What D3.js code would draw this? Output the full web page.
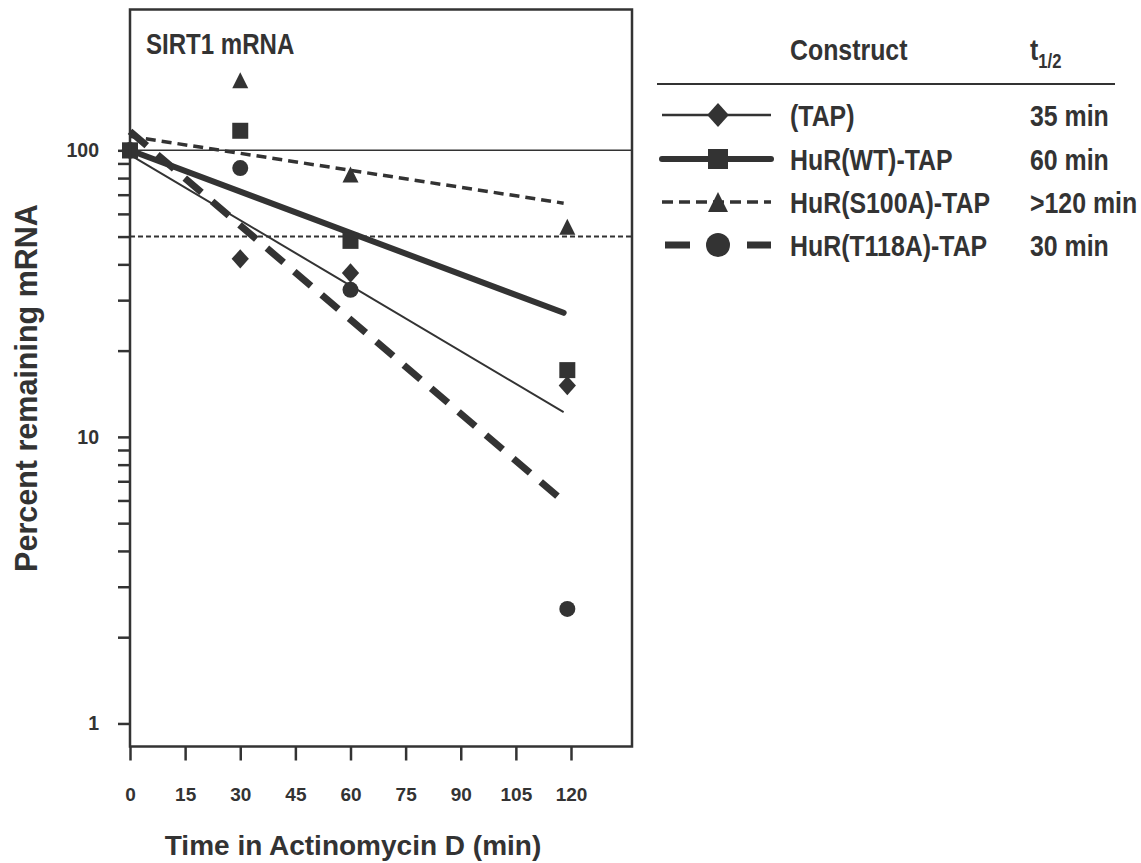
<!DOCTYPE html>
<html><head><meta charset="utf-8">
<script src="https://cdn.jsdelivr.net/npm/d3@7"></script>
<style>
body{margin:0;background:#fff}
text{font-family:"Liberation Sans",Arial,Helvetica,sans-serif;font-weight:bold;fill:#333}
</style>
</head><body><svg id="c" width="1141" height="863"></svg>
<script>
// ---- data ----
const times = [0, 30, 60, 119];
const constructs = ["(TAP)", "HuR(WT)-TAP", "HuR(S100A)-TAP", "HuR(T118A)-TAP"];
const halfLives = ["35 min", "60 min", ">120 min", "30 min"];
const tapValues = [100, 41.8, 37.3, 15.1];
const wtValues = [100, 117, 48.3, 17.1];
const s100aValues = [100, 175.5, 82.4, 54.1];
const t118aValues = [100, 86.7, 32.6, 2.51];
const fitTimes = [0, 118];
const tapFit = [96.4, 12.2];
const wtFit = [100, 27.1];
const s100aFit = [111.9, 65.4];
const t118aFit = [116.5, 5.95];
const xTicks = [0, 15, 30, 45, 60, 75, 90, 105, 120];
const yLabelled = [1, 10, 100];
const yMinor = [2,3,4,5,6,7,8,9,20,30,40,50,60,70,80,90];
const refLines = [100, 50];

const ink = "#333";
const svg = d3.select("#c");
const x = d3.scaleLinear().domain([0, 136.6]).range([130, 632]);
const y = d3.scaleLog().domain([0.831, 310]).range([746.5, 9.5]);

const series = [
  {name: constructs[0], hl: halfLives[0], vals: tapValues, fit: tapFit, shape: "diamond", w: 2, dash: null, cap: "butt", lw: 2.5, ldash: null},
  {name: constructs[1], hl: halfLives[1], vals: wtValues, fit: wtFit, shape: "square", w: 6, dash: null, cap: "round", lw: 6, ldash: null},
  {name: constructs[2], hl: halfLives[2], vals: s100aValues, fit: s100aFit, shape: "triangle", w: 3.5, dash: "10,6", cap: "butt", lw: 3.5, ldash: "11,6"},
  {name: constructs[3], hl: halfLives[3], vals: t118aValues, fit: t118aFit, shape: "circle", w: 7, dash: "22,14", cap: "butt", lw: 7, ldash: "25,57"}
];

function shapePath(shape, s) {
  const h = s / 2;
  if (shape === "diamond") { const r = h * 1.08, v = r * 1.12; return `M0,${-v}L${r},0L0,${v}L${-r},0Z`; }
  if (shape === "square") return `M${-h},${-h}H${h}V${h}H${-h}Z`;
  if (shape === "triangle") return `M0,${-h}L${h},${h}L${-h},${h}Z`;
  return `M${h},0A${h},${h},0,1,1,${-h},0A${h},${h},0,1,1,${h},0Z`;
}

// reference lines
svg.selectAll("line.ref").data(refLines).join("line")
  .attr("x1", x(0)).attr("x2", x(136.6))
  .attr("y1", d => y(d)).attr("y2", d => y(d))
  .attr("stroke", ink)
  .attr("stroke-width", (d, i) => i === 0 ? 1.5 : 2)
  .attr("stroke-dasharray", (d, i) => i === 0 ? null : "5,3");

// fit lines
const line = d3.line().x(d => x(d[0])).y(d => y(d[1]));
svg.selectAll("path.fit").data(series).join("path")
  .attr("d", s => line(fitTimes.map((t, i) => [t, s.fit[i]])))
  .attr("fill", "none").attr("stroke", ink)
  .attr("stroke-width", s => s.w).attr("stroke-dasharray", s => s.dash)
  .attr("stroke-linecap", s => s.cap);

// markers (WT squares drawn last so they sit on top at t=0)
const order = [0, 2, 3, 1];
order.forEach(k => {
  const s = series[k];
  svg.selectAll(null).data(s.vals).join("path")
    .attr("transform", (v, i) => `translate(${x(times[i])},${y(v)})`)
    .attr("d", shapePath(s.shape, 16))
    .attr("fill", ink);
});

// axes
const yAxis = d3.axisLeft(y).tickValues(yLabelled.concat(yMinor))
  .tickFormat(d => yLabelled.includes(d) ? d : "").tickSize(12).tickPadding(19);
const gy = svg.append("g").attr("transform", `translate(${x(0)},0)`).call(yAxis);
gy.select(".domain").remove();
gy.selectAll(".tick line").attr("stroke", ink).attr("stroke-width", 2.5);
gy.selectAll(".tick text").attr("font-size", 19.5).attr("font-family", null).style("fill", ink);

const xAxis = d3.axisBottom(x).tickValues(xTicks).tickSize(14).tickPadding(27);
const gx = svg.append("g").attr("transform", `translate(0,${y(0.831)})`).call(xAxis);
gx.select(".domain").remove();
gx.selectAll(".tick line").attr("stroke", ink).attr("stroke-width", 2.5);
gx.selectAll(".tick text").attr("font-size", 19).attr("font-family", null).style("fill", ink);

// frame
svg.append("rect").attr("x", x(0)).attr("y", y(310))
  .attr("width", x(136.6) - x(0)).attr("height", y(0.831) - y(310))
  .attr("fill", "none").attr("stroke", ink).attr("stroke-width", 2.5);

// titles
const narrow = 0.83;
svg.append("text").attr("transform", `translate(146,54) scale(${narrow},1)`)
  .attr("font-size", 29).text("SIRT1 mRNA");
svg.append("text").attr("x", 353).attr("y", 855).attr("text-anchor", "middle")
  .attr("font-size", 28).text("Time in Actinomycin D (min)");
svg.append("text").attr("transform", "translate(37,388) rotate(-90)")
  .attr("text-anchor", "middle").attr("font-size", 30.5).text("Percent remaining mRNA");

// legend
svg.append("text").attr("transform", `translate(790,60) scale(${narrow},1)`)
  .attr("font-size", 30).text("Construct");
const th = svg.append("text").attr("transform", `translate(1030,60) scale(${narrow},1)`).attr("font-size", 30);
th.append("tspan").text("t");
th.append("tspan").attr("dy", 8).attr("font-size", 20).text("1/2");
svg.append("line").attr("x1", 657).attr("x2", 1115).attr("y1", 84).attr("y2", 84)
  .attr("stroke", ink).attr("stroke-width", 2);

const rowY = [115, 159, 202, 245];
const lg = svg.selectAll("g.lg").data(series).join("g")
  .attr("transform", (s, i) => `translate(0,${rowY[i]})`);
lg.append("line").attr("x1", s => s.shape === "circle" ? 665 : 662).attr("x2", 771)
  .attr("stroke", ink).attr("stroke-width", s => s.lw)
  .attr("stroke-dasharray", s => s.ldash).attr("stroke-linecap", s => s.cap);
lg.append("path").attr("transform", "translate(718,0)")
  .attr("d", s => shapePath(s.shape, s.shape === "circle" ? 24 : 20)).attr("fill", ink);
lg.append("text").attr("transform", `translate(790,0) scale(${narrow},1)`)
  .attr("dy", "0.35em").attr("font-size", 30).text(s => s.name);
lg.append("text").attr("transform", `translate(1030,0) scale(${narrow},1)`)
  .attr("dy", "0.35em").attr("font-size", 30).text(s => s.hl);
</script>
</body></html>
